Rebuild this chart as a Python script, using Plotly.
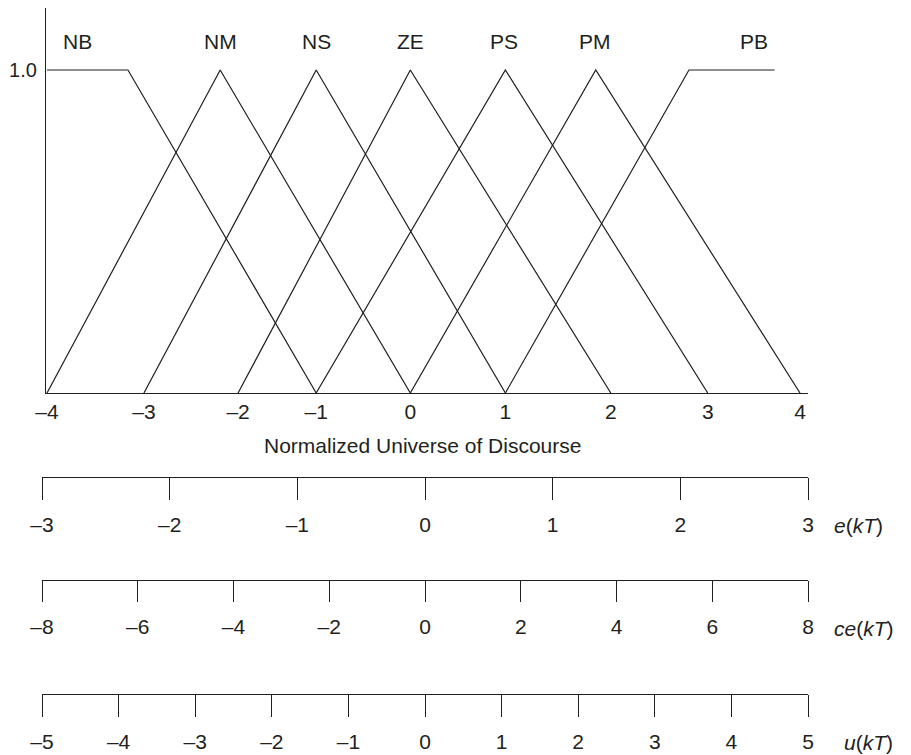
import plotly.graph_objects as go

W, H = 911, 755
OFF = 8  # the page body margin that shifts the figure div
INK = "#231f20"
FONT = "Liberation Sans, Arial, sans-serif"

# main axis: tick labels and the place where each one is drawn
main_tick_text = ["–4", "–3", "–2", "–1", "0", "1", "2", "3", "4"]
main_tick_pos = [-4.0, -2.97, -1.97, -1.14, -0.14, 0.87, 1.99, 3.02, 4.0]

# membership functions (x breakpoints, membership values)
set_names = ["NB", "NM", "NS", "ZE", "PS", "PM", "PB"]
nb_x, nb_y = [-4.0, -3.14, -1.14], [1, 1, 0]
nm_x, nm_y = [-4.0, -2.16, -0.14], [0, 1, 0]
ns_x, ns_y = [-2.97, -1.14, 0.87], [0, 1, 0]
ze_x, ze_y = [-1.97, -0.14, 1.99], [0, 1, 0]
ps_x, ps_y = [-1.14, 0.87, 3.02], [0, 1, 0]
pm_x, pm_y = [-0.14, 1.83, 4.0], [0, 1, 0]
pb_x, pb_y = [0.87, 2.82, 3.73], [0, 1, 1]
label_x = [-3.68, -2.16, -1.14, -0.14, 0.85, 1.82, 3.51]

# physical scales under the normalized axis
e_ticks = [-3, -2, -1, 0, 1, 2, 3]
ce_ticks = [-8, -6, -4, -2, 0, 2, 4, 6, 8]
u_ticks = [-5, -4, -3, -2, -1, 0, 1, 2, 3, 4, 5]
scale_names = ["<i>e</i>(<i>kT</i>)", "<i>ce</i>(<i>kT</i>)", "<i>u</i>(<i>kT</i>)"]


def dash(v):
    return ("–" + str(-v)) if v < 0 else str(v)


def px_x(p):
    return (p - OFF) / W


def px_y(p):
    return min(1.0, 1 - (p - OFF) / H)


fig = go.Figure()

mfs = [(nb_x, nb_y), (nm_x, nm_y), (ns_x, ns_y), (ze_x, ze_y),
       (ps_x, ps_y), (pm_x, pm_y), (pb_x, pb_y)]
for name, (xs, ys) in zip(set_names, mfs):
    fig.add_trace(go.Scatter(x=xs, y=ys, mode="lines", name=name,
                             line=dict(color=INK, width=1.2),
                             showlegend=False, hoverinfo="skip"))

for name, lx in zip(set_names, label_x):
    fig.add_annotation(x=lx, y=1.087, xref="x", yref="y", text=name,
                       showarrow=False, font=dict(size=21, color=INK))

# main axes: -4 at px 47, 4 at px 800; y=0 at px 393, y=1 at px 70
unit = (800 - 47) / 8
fig.update_layout(
    xaxis=dict(domain=[px_x(46), px_x(808)],
               range=[-4 - 1 / unit, 4 + 8 / unit],
               showline=True, linecolor=INK, linewidth=1.3,
               showgrid=False, zeroline=False, ticks="",
               tickvals=main_tick_pos, ticktext=main_tick_text,
               ticklabelstandoff=0, anchor="y",
               tickfont=dict(size=21)),
    yaxis=dict(domain=[px_y(393), px_y(OFF)],
               range=[0, (393 - OFF) / (393 - 70)],
               showline=True, linecolor=INK, linewidth=1.3,
               showgrid=False, zeroline=False, ticks="",
               tickvals=[1], ticktext=["1.0"], ticklabelstandoff=4,
               anchor="x", tickfont=dict(size=20)),
)

fig.add_annotation(x=px_x(422), y=px_y(445), xref="paper", yref="paper",
                   text="Normalized Universe of Discourse", showarrow=False,
                   font=dict(size=21, color=INK))

# the three scales, each its own thin subplot
scales = [
    (e_ticks, 477, 22, 31, 7, 525, 832),
    (ce_ticks, 580, 21, 31, 7, 628, 832),
    (u_ticks, 694, 22, 23, 7, 742, 842),
]
for i, (ticks, line_py, tlen, endlen, stand, lab_py, name_px) in enumerate(scales):
    xa = i + 2
    ya = i + 2
    over = i + 5
    y0 = px_y(line_py)
    fig.add_trace(go.Scatter(x=ticks, y=[0] * len(ticks), mode="markers",
                             marker=dict(opacity=0), xaxis=f"x{xa}",
                             yaxis=f"y{ya}", showlegend=False,
                             hoverinfo="skip"))
    fig.layout[f"xaxis{xa}"] = dict(
        domain=[px_x(42), px_x(808)], range=[ticks[0], ticks[-1]],
        anchor=f"y{ya}", showline=True, linecolor=INK, linewidth=1.3,
        showgrid=False, zeroline=False, ticks="outside", ticklen=tlen,
        tickwidth=1.3, tickcolor=INK, tickvals=ticks,
        ticktext=[dash(t) for t in ticks], ticklabelstandoff=stand,
        tickfont=dict(size=21))
    fig.layout[f"yaxis{ya}"] = dict(domain=[y0, min(y0 + 0.01, 1)],
                                    visible=False, range=[0, 1],
                                    anchor=f"x{xa}")
    # longer end ticks
    fig.layout[f"xaxis{over}"] = dict(
        overlaying=f"x{xa}", anchor=f"y{ya}", range=[ticks[0], ticks[-1]],
        showline=False, showgrid=False, zeroline=False, ticks="outside",
        ticklen=endlen, tickwidth=1.3, tickcolor=INK,
        tickvals=[ticks[0], ticks[-1]], showticklabels=False)
    fig.add_annotation(x=px_x(name_px), y=px_y(lab_py),
                       xref="paper", yref="paper", xanchor="left",
                       yanchor="middle", text=scale_names[i],
                       showarrow=False, font=dict(size=21, color=INK))

fig.update_layout(
    width=W, height=H,
    margin=dict(l=0, r=0, t=0, b=0, autoexpand=False),
    paper_bgcolor="white", plot_bgcolor="white",
    font=dict(family=FONT, size=21, color=INK),
    showlegend=False,
)

fig.write_html("out.html")
